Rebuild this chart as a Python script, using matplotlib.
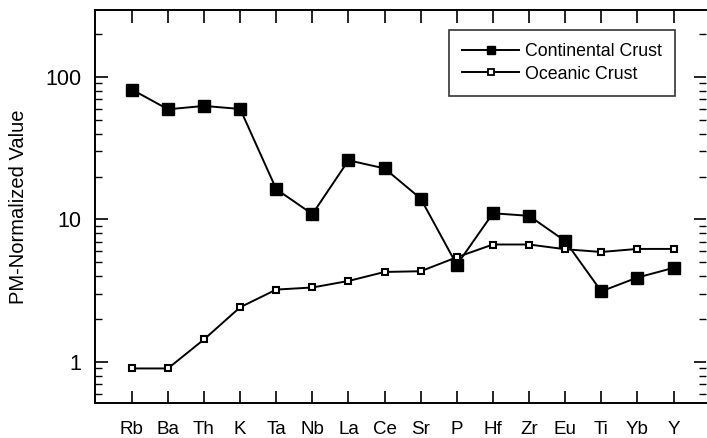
import numpy as np
import matplotlib.pyplot as plt
from matplotlib.ticker import LogLocator, NullFormatter

plt.rcParams['font.family'] = ['Liberation Sans', 'DejaVu Sans']

elements = ['Rb', 'Ba', 'Th', 'K', 'Ta', 'Nb', 'La', 'Ce', 'Sr', 'P',
            'Hf', 'Zr', 'Eu', 'Ti', 'Yb', 'Y']
continental = [81.6, 59.3, 62.6, 59.6, 16.3, 10.9, 26.0, 22.8, 14.0, 4.8,
               11.05, 10.6, 7.06, 3.13, 3.91, 4.57]
oceanic = [0.9, 0.9, 1.44, 2.42, 3.22, 3.33, 3.70, 4.28, 4.33, 5.43,
           6.67, 6.67, 6.18, 5.91, 6.21, 6.21]

fig = plt.figure(figsize=(7.07, 4.38), dpi=100)
ax = fig.add_axes([95/707, 1 - 403/438, (706 - 95)/707, (403 - 10)/438])

x = np.arange(len(elements))
ax.plot(x, continental, color='black', lw=1.4, marker='s', ms=8.5,
        mfc='black', mec='black', label='Continental Crust')
ax.plot(x, oceanic, color='black', lw=1.4, marker='s', ms=5,
        mfc='white', mec='black', mew=1.5, label='Oceanic Crust')

ax.set_yscale('log')
ax.set_ylim(0.515, 295)
ax.set_xlim(-1.02, 15.9)

ax.set_xticks(x)
ax.set_xticklabels(elements, fontsize=13.5)
ax.set_yticks([1, 10, 100])
ax.set_yticklabels(['1', '10', '100'], fontsize=15.5)
ax.yaxis.set_minor_locator(LogLocator(base=10, subs=np.arange(2, 10)))
ax.yaxis.set_minor_formatter(NullFormatter())

ax.tick_params(axis='both', which='major', direction='in', length=9, width=1.2,
               top=True, right=True, pad=10, color='black')
ax.tick_params(axis='y', which='minor', direction='in', length=5, width=1,
               right=True)
ax.tick_params(axis='x', which='major', pad=13)

for side in ['left', 'bottom', 'top']:
    ax.spines[side].set_linewidth(1.4)
ax.spines['right'].set_visible(False)

ax.set_ylabel('PM-Normalized Value', fontsize=14.5)
ax.yaxis.set_label_coords(-(95 - 28) / 611, 0.5)

leg = ax.legend(loc='upper right', bbox_to_anchor=(0.949, 0.949),
                bbox_transform=ax.transAxes, borderaxespad=0,
                fontsize=12.8, frameon=True, fancybox=False,
                edgecolor='black', handlelength=3.2, handletextpad=0.3,
                borderpad=0.75, labelspacing=0.3)
leg.get_frame().set_linewidth(1.2)
handles = leg.legend_handles
handles[0].set_markersize(6)
handles[1].set_markersize(4)
handles[1].set_markeredgewidth(1.3)

fig.savefig('out.png', dpi=100)
